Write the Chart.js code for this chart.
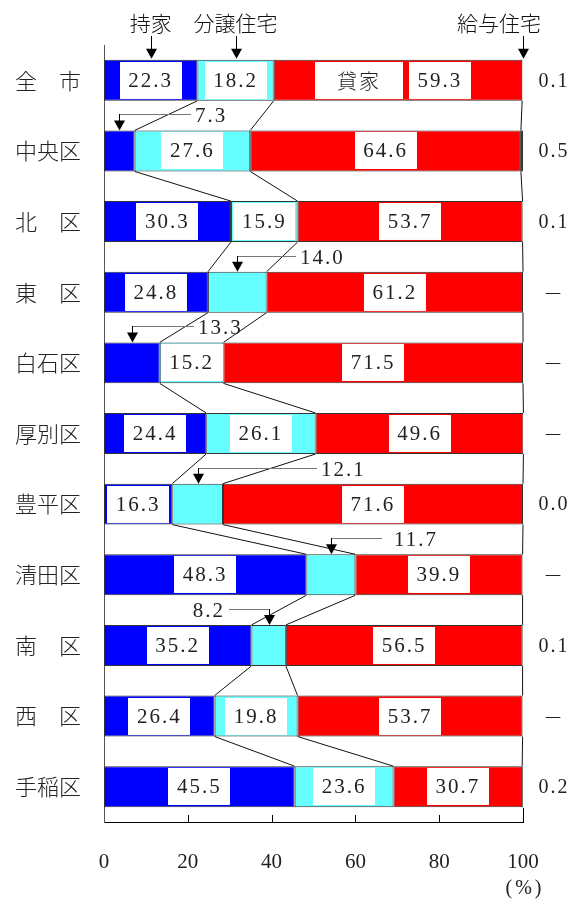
<!DOCTYPE html>
<html>
<head>
<meta charset="utf-8">
<script src="https://cdn.jsdelivr.net/npm/chart.js@4/dist/chart.umd.min.js"></script>
<style>
  html, body { margin: 0; padding: 0; background: #fff; }
</style>
</head>
<body>
<canvas id="myChart" width="574" height="901"></canvas>
<script>
// 区別 住宅の所有関係 (%)
var categories = ['全　市', '中央区', '北　区', '東　区', '白石区', '厚別区', '豊平区', '清田区', '南　区', '西　区', '手稲区'];
var mochiie = [22.3, 7.3, 30.3, 24.8, 13.3, 24.4, 16.3, 48.3, 35.2, 26.4, 45.5];   // 持家
var bunjo   = [18.2, 27.6, 15.9, 14.0, 15.2, 26.1, 12.1, 11.7, 8.2, 19.8, 23.6];   // 分譲住宅
var kashiya = [59.3, 64.6, 53.7, 61.2, 71.5, 49.6, 71.6, 39.9, 56.5, 53.7, 30.7];  // 貸家
var kyuyo   = [0.1, 0.5, 0.1, null, null, null, 0.0, null, 0.1, null, 0.2];        // 給与住宅
var xTicks  = [0, 20, 40, 60, 80, 100];

var seriesNames = ['持家', '分譲住宅', '貸家', '給与住宅'];
var series = [mochiie, bunjo, kashiya];

// small segments get an arrow callout above the bar instead of a box
// len = horizontal leader length in px, side = which way the leader runs
var callouts = [
  {cat: 1, ds: 0, len: 72, side: 1},
  {cat: 3, ds: 1, len: 59, side: 1},
  {cat: 4, ds: 0, len: 62, side: 1},
  {cat: 6, ds: 1, len: 119, side: 1},
  {cat: 7, ds: 1, len: 51, side: 1, gap: 12},
  {cat: 8, ds: 1, len: 40, side: -1}
];

var NUM_FONT = '21px "Liberation Serif", "DejaVu Serif", serif';
var JP_FONT = '"Noto Sans CJK JP", "Noto Sans", sans-serif';

function fmt(v) { return v.toFixed(1); }

function cum(i, k) {
  var s = 0;
  for (var j = 0; j <= k; j++) s += series[j][i];
  return s;
}

function hasCallout(i, k) {
  return callouts.some(function (c) { return c.cat === i && c.ds === k; });
}

function arrowDown(c, x, y1, y2) {
  c.strokeStyle = '#000';
  c.lineWidth = 1;
  c.beginPath();
  c.moveTo(x + 0.5, y1);
  c.lineTo(x + 0.5, y2 - 8);
  c.stroke();
  c.fillStyle = '#000';
  c.beginPath();
  c.moveTo(x - 5, y2 - 10);
  c.lineTo(x + 6, y2 - 10);
  c.lineTo(x + 0.5, y2);
  c.closePath();
  c.fill();
}

function boxText(c, cx, cy, w, h, text, font) {
  c.fillStyle = '#fff';
  c.fillRect(Math.round(cx - w / 2), Math.round(cy - h / 2), w, h);
  c.fillStyle = '#222';
  c.font = font;
  c.textAlign = 'center';
  c.textBaseline = 'middle';
  c.fillText(text, cx, cy + 1);
}

var annotate = {
  id: 'annotate',
  afterDatasetsDraw: function (chart) {
    var c = chart.ctx;
    var xs = chart.scales.x, ys = chart.scales.y;
    var half = chart.getDatasetMeta(0).data[0].height / 2;
    var n = categories.length;
    c.save();
    c.letterSpacing = '2px';

    // connector lines between neighbouring bars
    c.strokeStyle = '#111';
    c.lineWidth = 1;
    for (var i = 0; i < n - 1; i++) {
      for (var k = 0; k < 3; k++) {
        c.beginPath();
        c.moveTo(xs.getPixelForValue(cum(i, k)), ys.getPixelForValue(i) + half);
        c.lineTo(xs.getPixelForValue(cum(i + 1, k)), ys.getPixelForValue(i + 1) - half);
        c.stroke();
      }
    }

    // value boxes inside the segments
    for (var i = 0; i < n; i++) {
      var cy = ys.getPixelForValue(i);
      for (var k = 0; k < 3; k++) {
        if (hasCallout(i, k)) continue;
        var v = series[k][i];
        var start = k === 0 ? 0 : cum(i, k - 1);
        var cx = xs.getPixelForValue(start + v / 2);
        if (i === 0 && k === 2) {
          // 全市 carries the series name next to its value
          boxText(c, cx - 39, cy, 88, half * 2 - 4, seriesNames[2], '300 20px ' + JP_FONT);
          boxText(c, cx + 42, cy, 62, half * 2 - 4, fmt(v), NUM_FONT);
        } else {
          boxText(c, cx, cy, 62, half * 2 - 4, fmt(v), NUM_FONT);
        }
      }
    }

    // callouts for the narrow segments
    callouts.forEach(function (co) {
      var v = series[co.ds][co.cat];
      var start = co.ds === 0 ? 0 : cum(co.cat, co.ds - 1);
      var ax = Math.round(xs.getPixelForValue(start + v / 2));
      var top = ys.getPixelForValue(co.cat) - half;
      var ly = Math.round(top - 16);
      var ex = ax + co.side * co.len;
      c.strokeStyle = '#777';
      c.beginPath();
      c.moveTo(ax, ly + 0.5);
      c.lineTo(ex, ly + 0.5);
      c.stroke();
      arrowDown(c, ax, ly, top);
      c.fillStyle = '#222';
      c.font = NUM_FONT;
      c.textBaseline = 'middle';
      c.textAlign = co.side > 0 ? 'left' : 'right';
      c.fillText(fmt(v), ex + co.side * (co.gap || 4), ly + 2);
    });

    // 給与住宅 column on the right
    c.textAlign = 'center';
    c.textBaseline = 'middle';
    c.fillStyle = '#222';
    for (var i = 0; i < n; i++) {
      var t = kyuyo[i] === null ? '－' : fmt(kyuyo[i]);
      if (kyuyo[i] === null) c.font = '300 20px ' + JP_FONT;
      else c.font = '20px "Liberation Serif", serif';
      c.fillText(t, xs.right + 31, ys.getPixelForValue(i) + 1);
    }

    // headings with arrows over the first bar
    var barTop = ys.getPixelForValue(0) - half;
    c.letterSpacing = '0px';
    c.font = '300 21px ' + JP_FONT;
    c.fillStyle = '#111';
    var hx = [
      xs.getPixelForValue(mochiie[0] / 2),
      xs.getPixelForValue(mochiie[0] + bunjo[0] / 2),
      xs.getPixelForValue(100)
    ];
    c.textAlign = 'center';
    c.fillText(seriesNames[0], hx[0], 23);
    c.fillText(seriesNames[1], hx[1], 23);
    c.textAlign = 'right';
    c.fillText(seriesNames[3], hx[2] + 18, 23);
    hx.forEach(function (x) { arrowDown(c, Math.round(x), 36, barTop - 1); });

    // tick marks pointing into the plot
    c.strokeStyle = '#000';
    var axisY = xs.top;
    xTicks.forEach(function (t) {
      if (t === 0) return;
      var px = Math.round(xs.getPixelForValue(t)) + 0.5;
      c.beginPath();
      c.moveTo(px, axisY);
      c.lineTo(px, axisY - (t === 100 ? 14 : 7));
      c.stroke();
    });

    c.font = '20px "Liberation Serif", serif';
    c.textAlign = 'center';
    c.fillStyle = '#222';
    c.letterSpacing = '3px';
    c.fillText('(%)', xs.getPixelForValue(100) + 2, 889);
    c.restore();
  }
};

var ctx = document.getElementById('myChart').getContext('2d');
var myChart = new Chart(ctx, {
  type: 'bar',
  data: {
    labels: categories,
    datasets: [
      {label: seriesNames[0], data: mochiie, backgroundColor: '#0000ff'},
      {label: seriesNames[1], data: bunjo, backgroundColor: '#66ffff'},
      {label: seriesNames[2], data: kashiya, backgroundColor: '#ff0000'},
      {label: seriesNames[3], data: kyuyo, backgroundColor: '#000000'}
    ]
  },
  options: {
    indexAxis: 'y',
    responsive: false,
    animation: false,
    datasets: {
      bar: {
        barPercentage: 0.58,
        categoryPercentage: 1,
        borderWidth: 1,
        borderColor: '#333',
        borderSkipped: false
      }
    },
    layout: {padding: {left: 15, right: 51, top: 45, bottom: 0}},
    plugins: {
      legend: {display: false},
      tooltip: {enabled: false}
    },
    scales: {
      x: {
        stacked: true,
        min: 0,
        max: 100,
        afterBuildTicks: function (s) { s.ticks = xTicks.map(function (v) { return {value: v}; }); },
        ticks: {
          font: {family: '"Liberation Serif", serif', size: 21},
          color: '#222',
          padding: 28
        },
        grid: {display: false, drawTicks: false},
        border: {color: '#000'},
        afterFit: function (s) { s.height = 79; }
      },
      y: {
        stacked: true,
        ticks: {
          font: {family: JP_FONT, size: 22, weight: '300'},
          color: '#222',
          crossAlign: 'far',
          padding: 0
        },
        grid: {display: false},
        border: {color: '#555'},
        afterFit: function (s) { s.width = 89; }
      }
    }
  },
  plugins: [annotate]
});
</script>
</body>
</html>
